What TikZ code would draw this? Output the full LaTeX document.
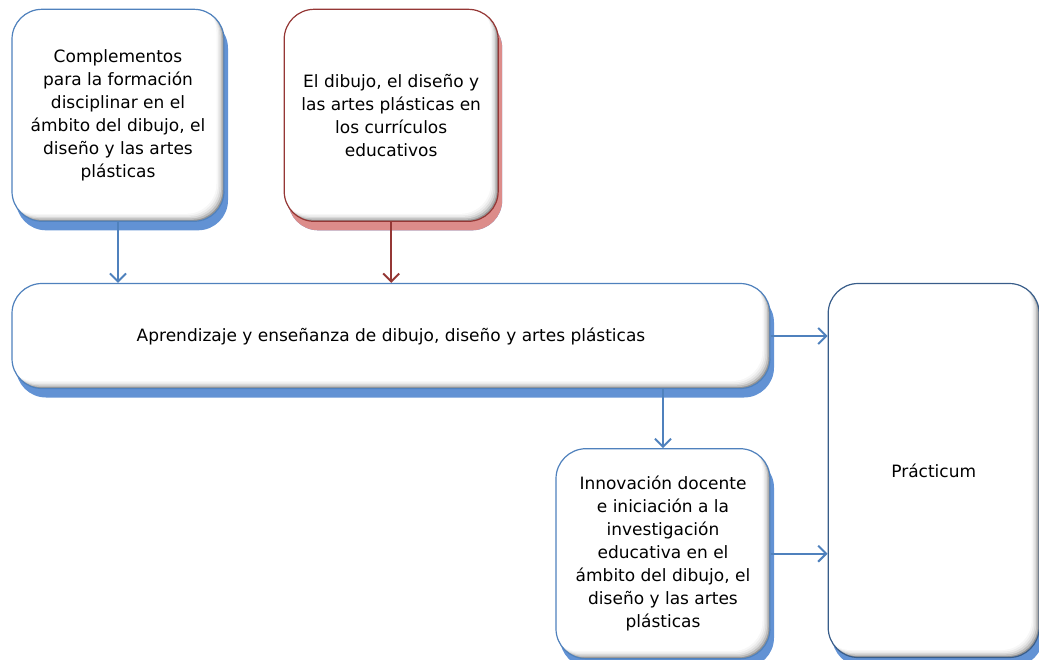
\documentclass[tikz,border=0pt]{standalone}
\usepackage{fontspec}
\setmainfont{DejaVu Sans}
\usepackage{tikz}
\usetikzlibrary{positioning,shadows,arrows.meta}
\definecolor{boxblue}{RGB}{79,129,189}
\definecolor{darkblue}{RGB}{56,93,138}
\definecolor{boxred}{RGB}{149,55,53}
\definecolor{shadeblue}{RGB}{98,146,212}
\definecolor{shadered}{RGB}{220,140,138}
\tikzset{
  bisel/.style={path picture={
    \fill[black!42] (path picture bounding box.south west) rectangle (path picture bounding box.north east);
    \foreach \d/\c in {1.5/26, 3/15, 4.5/8, 6/3, 7.5/0}
      \fill[black!\c, rounded corners=30pt] ([xshift=-\d pt,yshift=\d pt]path picture bounding box.south west) rectangle ([xshift=-\d pt,yshift=\d pt]path picture bounding box.north east);
  }},
  modulo/.style={draw=boxblue, line width=1.2pt, fill=white, rounded corners=30pt, bisel,
    align=center, font=\fontsize{17}{23}\selectfont, inner sep=0pt,
    general shadow={shadow xshift=4pt, shadow yshift=-9pt, fill=shadeblue}},
  modulored/.style={modulo, draw=boxred,
    general shadow={shadow xshift=4pt, shadow yshift=-9pt, fill=shadered}},
  flecha/.style={-{Straight Barb[length=8pt,width=16pt,line width=2pt]}, line width=2pt, boxblue},
}
\begin{document}
\begin{tikzpicture}[x=1pt,y=-1pt]
	\useasboundingbox (0,0) rectangle (1039,659);
	% Define nodes
	\node[modulo, minimum width=758pt, minimum height=105pt] at (391,336) (apr)
	  {Aprendizaje y enseñanza de dibujo, diseño y artes plásticas};
	\node[modulo, minimum width=212pt, minimum height=212pt, above=61pt of apr.north west, anchor=south west] (comp)
	  {Complementos\\para la formación\\disciplinar en el\\ámbito del dibujo, el\\diseño y las artes\\plásticas};
	\node[modulored, minimum width=214pt, minimum height=212pt, right=59pt of comp] (curr)
	  {El dibujo, el diseño y\\las artes plásticas en\\los currículos\\educativos};
	\node[modulo, minimum width=214pt, minimum height=210pt, below=59pt of apr.south east, anchor=north east] (inno)
	  {Innovación docente\\e iniciación a la\\investigación\\educativa en el\\ámbito del dibujo, el\\diseño y las artes\\plásticas};
	\node[modulo, draw=darkblue, minimum width=211pt, minimum height=374pt, right=57pt of apr.north east, anchor=north west] (prac)
	  {Prácticum};
	% Connect the nodes
	\draw[flecha] (comp.south) -- (comp.south |- apr.north);
	\draw[flecha, boxred] (curr.south) -- (curr.south |- apr.north);
	\draw[flecha] (inno.north |- apr.south) -- (inno.north);
	\draw[flecha] (apr.east) -- (apr.east -| prac.west);
	\draw[flecha] (inno.east) -- (inno.east -| prac.west);
\end{tikzpicture}
\end{document}
